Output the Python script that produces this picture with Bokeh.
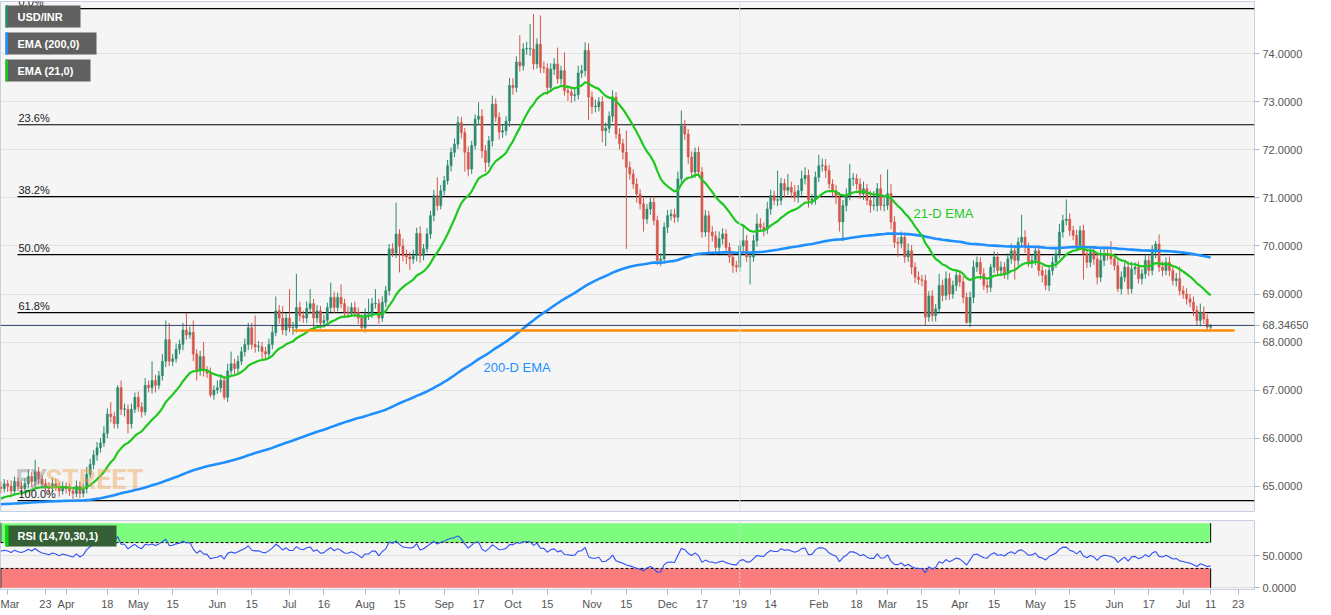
import numpy as np
import pandas as pd
from bokeh.plotting import figure
from bokeh.layouts import column
from bokeh.models import (ColumnDataSource, Range1d, FixedTicker, Span, Label,
                          BoxAnnotation, NumeralTickFormatter)
from bokeh.embed import file_html
from bokeh.resources import INLINE

# ---------------- DATA ----------------
START_DATE = "2018-03-06"
FIRST_OPEN = 64.98

close_mar_jul18 = [64.95,65.05,65.00,64.90,65.10,65.00,64.95,65.05,65.20,65.10,
                   65.30,65.15,65.05,65.00,64.95,65.05,65.00,64.90,65.00,64.95,
                   64.90,64.85,65.00,64.85,64.95,65.25,65.45,65.65,65.80,65.90,
                   66.10,66.50,66.45,66.30,67.05,66.60,66.60,66.30,66.60,66.85,
                   66.65,66.55,67.10,67.05,67.20,67.10,67.30,67.60,68.05,67.60,
                   67.65,67.85,67.95,68.25,68.15,68.20,67.75,67.40,67.70,67.40,
                   67.35,66.90,67.00,67.05,67.20,66.85,67.40,67.55,67.45,67.60,
                   67.80,67.95,68.30,67.95,67.90,67.90,67.80,67.75,67.95,68.20,
                   68.65,68.50,68.25,68.50,68.30,68.30,68.72,68.55,68.50]
close_jul_nov18 = [68.70,68.80,68.50,68.65,68.40,68.45,68.72,68.93,68.72,68.93,
                   68.80,68.62,68.60,68.72,68.62,68.50,68.30,68.58,68.58,68.80,
                   68.80,68.50,68.83,69.07,69.94,69.85,70.25,70.00,69.80,69.77,
                   69.73,69.80,70.26,69.80,69.94,70.25,70.63,71.05,70.84,71.15,
                   71.36,71.67,71.95,72.12,72.57,72.36,71.95,71.60,72.09,72.64,
                   72.70,71.98,71.74,72.19,72.95,72.68,72.37,72.40,72.60,73.34,
                   73.30,73.83,73.75,74.10,74.10,74.10,73.79,74.20,73.72,73.70,
                   73.30,73.68,73.79,73.48,73.65,73.23,73.20,73.13,73.15,73.60,
                   73.65,74.07,73.10,72.90,72.90,73.00,72.40]
close_nov18_mar19 = [72.45,72.70,73.10,72.33,72.13,71.95,71.64,71.50,71.29,71.08,
                     70.88,70.56,70.77,70.91,70.53,69.70,69.73,70.39,70.63,70.66,
                     70.60,71.40,72.50,72.33,71.85,71.54,71.95,71.54,70.29,70.63,
                     70.29,70.21,69.97,70.15,70.25,69.97,69.77,69.59,69.56,70.00,
                     70.11,69.77,69.77,70.11,70.46,70.39,70.35,70.77,71.05,70.95,
                     70.95,71.30,71.16,71.22,71.12,71.02,71.15,71.40,71.47,70.95,
                     70.98,71.43,71.67,71.67,71.57,71.29,71.15,71.02,70.50,70.84,
                     71.05,71.40,71.40,71.29,71.08,71.19,70.95,70.84,70.84,71.19,
                     70.84,70.85,71.09,70.50,70.08,70.05]
close_mar_jul19 = [70.18,69.77,69.90,69.56,69.35,69.30,69.28,68.52,68.96,68.55,
                   68.69,69.18,68.97,69.32,69.00,69.18,69.39,69.25,68.93,68.41,
                   68.93,69.56,69.66,69.42,69.18,69.14,69.56,69.77,69.49,69.56,
                   69.42,69.73,69.90,69.70,70.08,70.18,69.97,69.66,69.70,69.90,
                   69.49,69.39,69.18,69.49,69.66,69.84,70.29,70.53,70.56,70.32,
                   70.22,70.01,70.32,69.84,69.66,69.87,69.73,69.35,69.70,69.84,
                   69.80,69.73,69.59,69.11,69.35,69.56,69.11,69.52,69.56,69.32,
                   69.42,69.70,69.49,69.87,70.04,69.56,69.49,69.66,69.49,69.28,
                   69.32,69.07,69.00,68.90,68.83,68.66,68.45,68.62,68.48,68.31,
                   68.3465]

# wick lengths above / below the candle body, in paise (1/100 rupee)
wick_up_1 = [12,10,8,12,10,8,10,12,15,10, 25,10,8,10,8,12,10,8,10,8, 10,8,12,10,10,15,12,10,12,10,
             15,12,25,10,5,15,12,10,12,10, 12,10,15,10,40,12,10,15,40,35, 10,12,10,15,35,12,25,10,12,30,
             10,12,10,15,12,10,15,25,10,12, 10,12,10,10,60,12,10,10,12,15, 30,12,25,10,60,12,70,12,10]
wick_dn_1 = [10,8,12,10,8,10,12,8,10,12, 10,12,8,10,10,8,10,12,8,10, 10,12,8,10,8,10,8,10,12,10,
             8,10,12,10,10,12,15,20,10,8, 10,12,8,10,12,15,8,10,12,10, 10,8,10,12,10,8,15,20,10,12,
             10,5,10,8,10,5,10,8,12,10, 8,10,12,10,12,10,15,10,8,10, 8,12,10,12,10,15,10,12,10]
wick_up_2 = [15,30,10,12,10,12,10,31,12,10, 27,10,12,10,12,10,8,12,32,12, 30,10,12,10,10,12,65,10,15,12,
             10,12,12,15,10,12,10,12,38,12, 10,12,10,12,13,12,10,12,10,10, 29,15,12,10,18,12,10,12,10,16,
             15,12,56,12,15,52,73,12,60,12, 10,12,12,34,10,38,12,10,12,15, 12,17,15,12,15,10,12]
wick_dn_2 = [10,12,25,10,12,10,8,10,12,8, 10,12,10,8,10,12,5,10,12,8, 10,12,8,10,10,8,10,55,12,15,
             23,10,12,15,10,8,10,12,10,8, 10,8,12,10,10,12,40,15,10,8, 12,15,20,10,12,10,15,12,10,12,
             15,10,12,10,12,15,12,10,12,10, 15,10,12,10,12,10,18,15,12,10, 10,12,48,15,12,10,24]
wick_up_3 = [12,10,14,10,12,10,45,12,10,12, 10,12,10,9,12,10,12,10,12,10, 12,15,32,12,10,12,10,12,10,12,
             10,12,10,15,12,10,10,12,10,12, 34,12,10,12,21,12,10,15,12,10, 62,12,10,28,12,15,12,17,17,12,
             10,12,23,15,14,12,10,12,10,12, 15,31,12,10,12,15,10,20,30,12, 30,15,50,20,12,10]
wick_dn_3 = [32,10,12,10,12,15,170,12,10,18, 12,26,10,12,10,10,12,10,12,10, 12,10,10,12,15,10,12,10,12,10,
             44,12,15,10,12,10,12,15,11,10, 12,10,57,10,12,10,15,10,12,10, 12,10,15,10,12,10,12,10,12,15,
             10,12,10,12,15,10,12,15,20,40, 12,10,15,12,10,12,10,15,10,12, 10,12,10,15,12,28]
wick_up_4 = [12,10,15,12,10,12,10,12,10,12, 10,24,12,15,12,10,12,10,12,10, 12,14,12,10,12,10,7,12,10,12,
             10,12,15,12,10,47,15,10,12,10, 12,10,12,10,12,10,17,12,41,12, 10,12,10,12,10,12,10,12,25,12,
             10,30,12,10,12,10,12,15,10,12, 10,12,12,15,6,20,12,10,12,10, 12,25,10,12,10,12,10,18,12,10, 3]
wick_dn_4 = [10,12,10,15,12,10,12,17,10,12, 12,10,12,10,12,10,12,10,12,3, 10,12,10,12,10,12,10,12,10,12,
             10,12,10,40,12,10,12,10,12,10, 12,15,10,12,10,12,10,12,10,12, 10,12,10,54,12,10,12,15,10,12,
             10,12,10,7,12,10,12,10,12,10, 12,10,12,10,12,10,12,10,12,10, 12,10,10,12,10,12,10,12,10,6, 4]

fib_high = 74.94
fib_low = 64.70
fib_ratios = [0.0, 0.236, 0.382, 0.5, 0.618, 1.0]
fib_labels = ["0.0%", "23.6%", "38.2%", "50.0%", "61.8%", "100.0%"]
support_level = 68.24
support_from_date = "2018-07-03"
ema200_seed = 64.62
ema21_seed = 64.72
rsi_seed_gain = 0.12
rsi_seed_loss = 0.09
rsi_upper, rsi_lower = 70, 30
price_ticks = [65, 66, 67, 68, 69, 70, 71, 72, 73, 74]

tick_dates = ["2018-03-08", "2018-03-23", "2018-04-02", "2018-04-18", "2018-05-01", "2018-05-15",
              "2018-06-01", "2018-06-15", "2018-07-02", "2018-07-16", "2018-08-01", "2018-08-15",
              "2018-09-03", "2018-09-17", "2018-10-01", "2018-10-15", "2018-11-01", "2018-11-15",
              "2018-12-03", "2018-12-17", "2019-01-01", "2019-01-14", "2019-02-01", "2019-02-18",
              "2019-03-01", "2019-03-15", "2019-04-01", "2019-04-15", "2019-05-01", "2019-05-15",
              "2019-06-03", "2019-06-17", "2019-07-01", "2019-07-11", "2019-07-23"]
tick_labels = ["Mar", "23", "Apr", "18", "May", "15", "Jun", "15", "Jul", "16", "Aug", "15",
               "Sep", "17", "Oct", "15", "Nov", "15", "Dec", "17", "'19", "14", "Feb", "18",
               "Mar", "15", "Apr", "15", "May", "15", "Jun", "17", "Jul", "11", "23"]

# ---------------- derived series ----------------
close = np.array(close_mar_jul18 + close_jul_nov18 + close_nov18_mar19 + close_mar_jul19)
wu = np.array(wick_up_1 + wick_up_2 + wick_up_3 + wick_up_4) / 100.0
wd = np.array(wick_dn_1 + wick_dn_2 + wick_dn_3 + wick_dn_4) / 100.0
n = len(close)
idx = np.arange(n)
opn = np.concatenate([[FIRST_OPEN], close[:-1]])
body_top = np.maximum(opn, close)
body_bot = np.minimum(opn, close)
high = body_top + wu[:n]
low = body_bot - wd[:n]
body_top = np.maximum(body_top, body_bot + 0.012)
up = close >= opn
GREEN, RED = "#2b8a6e", "#d6574a"
colors = [GREEN if u else RED for u in up]

def ema(series, period, seed):
    a = 2.0 / (period + 1)
    out, e = [], seed
    for v in series:
        e = e + a * (v - e)
        out.append(e)
    return np.array(out)

ema21 = ema(close, 21, ema21_seed)
ema200 = ema(close, 200, ema200_seed)

rsi = []
ag, al = rsi_seed_gain, rsi_seed_loss
prev = FIRST_OPEN
for v in close:
    ch = v - prev
    ag = (ag * 13 + max(ch, 0)) / 14
    al = (al * 13 + max(-ch, 0)) / 14
    rsi.append(100 - 100 / (1 + ag / al))
    prev = v
rsi = np.array(rsi)

dates = pd.bdate_range(START_DATE, periods=420)
def didx(ds):
    return int(dates.get_loc(pd.Timestamp(ds)))
tick_pos = [didx(d) for d in tick_dates]
overrides = {float(t): lab for t, lab in zip(tick_pos, tick_labels)}

# ---------------- geometry ----------------
W = 1331
FRAME_W = 1254
X0, X1 = -0.09, 364.76
MAIN_H, MAIN_TOP, MAIN_FH = 514, 1, 510
Y_TOP, Y_BOT = 75.089, 64.473
RSI_H, RSI_TOP, RSI_FH = 101, 6, 69
R_TOP, R_BOT = 104.2, -2.6

def xd(px):
    return X0 + px * (X1 - X0) / FRAME_W
def yd(py):
    return Y_TOP - (py - MAIN_TOP) * (Y_TOP - Y_BOT) / MAIN_FH
def rd(py):
    return R_TOP - (py - MAIN_H - RSI_TOP) * (R_TOP - R_BOT) / RSI_FH

FONT = "Liberation Sans"
AXIS_COLOR = "#555555"
OUTLINE = "#c8cfe2"

x_range = Range1d(X0, X1)

# ---------------- main price panel ----------------
p = figure(width=W, height=MAIN_H, x_range=x_range, y_range=Range1d(Y_BOT, Y_TOP),
           x_axis_location=None, y_axis_location="right",
           output_backend="svg", toolbar_location=None,
           min_border_left=0, min_border_right=W - FRAME_W, min_border_top=MAIN_TOP,
           min_border_bottom=MAIN_H - MAIN_TOP - MAIN_FH,
           background_fill_color="#f5f5f5", border_fill_color="white",
           outline_line_color=OUTLINE)
p.xgrid.visible = False
p.ygrid.grid_line_color = "#e1e1e1"
p.ygrid.ticker = FixedTicker(ticks=price_ticks)
last_price = float(close[-1])
yax = p.yaxis[0]
yax.ticker = FixedTicker(ticks=price_ticks + [last_price])
yax.formatter = NumeralTickFormatter(format="0.0000")
yax.major_label_overrides = {last_price: f"{last_price:.5f}"}
yax.major_label_text_font = FONT
yax.major_label_text_font_size = "11px"
yax.major_label_text_color = AXIS_COLOR
yax.axis_line_color = None
yax.major_tick_line_color = "#b0b8cc"
yax.major_tick_in = 0
yax.major_tick_out = 5
yax.minor_tick_line_color = None
yax.major_label_standoff = 3

jan_idx = didx("2019-01-01")
p.add_layout(Span(location=jan_idx, dimension="height", line_color="#e4e4e4", line_width=1))

# fibonacci levels
fib_vals = [fib_high - r * (fib_high - fib_low) for r in fib_ratios]
p.segment(x0=[xd(17)] * len(fib_vals), x1=[X1] * len(fib_vals), y0=fib_vals, y1=fib_vals,
          line_color="black", line_width=1.2)
for v, lab in zip(fib_vals, fib_labels):
    p.add_layout(Label(x=xd(18), y=v, text=lab, text_font=FONT, text_font_size="11px",
                       text_color="#222222", text_baseline="bottom", y_offset=1))

# watermark
p.add_layout(Label(x=xd(15), y=yd(479), text="FX", text_font="Roboto", text_font_style="bold",
                   text_font_size="27px", text_color="#8a8a8a", text_alpha=0.45, text_baseline="middle"))
p.add_layout(Label(x=xd(45), y=yd(479), text="STREET", text_font="Roboto", text_font_style="bold",
                   text_font_size="27px", text_color="#f0a24e", text_alpha=0.45, text_baseline="middle"))

# candles
src = ColumnDataSource(dict(x=idx, h=high, l=low, t=body_top, b=body_bot, c=colors))
p.segment(x0="x", x1="x", y0="l", y1="h", line_color="c", line_width=1, source=src)
p.vbar(x="x", width=0.62, top="t", bottom="b", fill_color="c", line_color="c", line_width=0.5, source=src)

# EMAs
p.line(idx, ema200, line_color="#1e8fff", line_width=2.6, line_join="round")
p.line(idx, ema21, line_color="#1fc81f", line_width=2.2, line_join="round")

# support & last price
sup_i = didx(support_from_date)
p.segment(x0=[sup_i], x1=[xd(1234)], y0=[support_level], y1=[support_level],
          line_color="#ff8c00", line_width=2.6)
p.add_layout(Span(location=last_price, dimension="width", line_color="#2f4565", line_width=1))

# annotations
p.add_layout(Label(x=xd(913), y=yd(213), text="21-D EMA", text_font=FONT, text_font_size="13px",
                   text_color="#1fc81f", text_baseline="middle"))
p.add_layout(Label(x=xd(483), y=yd(367), text="200-D EMA", text_font=FONT, text_font_size="13px",
                   text_color="#1e8fff", text_baseline="middle"))

# legend boxes
legend_items = [("USD/INR", "#2b8a6e", 5, 80, 5, 27),
                ("EMA (200,0)", "#1e8fff", 5, 96, 32, 54),
                ("EMA (21,0)", "#14c814", 5, 90, 59, 81)]
for txt, col, l, rr, t, b in legend_items:
    p.add_layout(BoxAnnotation(left=xd(l), right=xd(rr), top=yd(t), bottom=yd(b),
                               fill_color="#606060", fill_alpha=1, line_color=None))
    p.add_layout(BoxAnnotation(left=xd(l), right=xd(l + 2.5), top=yd(t), bottom=yd(b),
                               fill_color=col, fill_alpha=1, line_color=None))
    p.add_layout(Label(x=xd(17), y=yd((t + b) / 2), text=txt, text_font=FONT, text_font_style="bold",
                       text_font_size="11px", text_color="white", text_baseline="middle"))

# ---------------- RSI panel ----------------
r = figure(width=W, height=RSI_H, x_range=x_range, y_range=Range1d(R_BOT, R_TOP),
           y_axis_location="right", output_backend="svg", toolbar_location=None,
           min_border_left=0, min_border_right=W - FRAME_W, min_border_top=RSI_TOP,
           min_border_bottom=RSI_H - RSI_TOP - RSI_FH,
           background_fill_color="#f5f5f5", border_fill_color="white",
           outline_line_color=OUTLINE)
r.xgrid.visible = False
r.ygrid.grid_line_color = "#dedede"
ry = r.yaxis[0]
ry.ticker = FixedTicker(ticks=[0, 50])
ry.formatter = NumeralTickFormatter(format="0.0000")
for ax in (ry, r.xaxis[0]):
    ax.major_label_text_font = FONT
    ax.major_label_text_font_size = "11px"
    ax.major_label_text_color = AXIS_COLOR
    ax.axis_line_color = None
    ax.major_tick_line_color = "#b0b8cc"
    ax.major_tick_in = 0
    ax.major_tick_out = 5
    ax.minor_tick_line_color = None
    ax.major_label_standoff = 3
rx = r.xaxis[0]
rx.ticker = FixedTicker(ticks=[float(t) for t in tick_pos])
rx.major_label_overrides = overrides

r.add_layout(Span(location=jan_idx, dimension="height", line_color="#dcdcdc", line_width=1,
                  line_dash="2 2"))
last = n - 1
r.quad(left=[X0, X0], right=[last, last], bottom=[rsi_upper, 0], top=[100, rsi_lower],
       fill_color=["#7dfc7d", "#fb7c7c"], line_color=None)
r.segment(x0=[X0, X0], x1=[last, last], y0=[rsi_upper, rsi_lower], y1=[rsi_upper, rsi_lower],
          line_color="black", line_width=1, line_dash="3 2")
r.segment(x0=[last, last, 0.0, 0.0], x1=[last, last, 0.0, 0.0], y0=[rsi_upper, 0, rsi_upper, 0],
          y1=[100, rsi_lower, 100, rsi_lower], line_color="black", line_width=1)
r.line(idx, rsi, line_color="#2f50f5", line_width=1.1)

r.add_layout(BoxAnnotation(left=xd(5), right=xd(116), top=rd(525), bottom=rd(546),
                           fill_color="#355f35", fill_alpha=1, line_color=None))
r.add_layout(BoxAnnotation(left=xd(5), right=xd(8), top=rd(525), bottom=rd(546),
                           fill_color="#00e000", fill_alpha=1, line_color=None))
r.add_layout(Label(x=xd(17), y=rd(535.5), text="RSI (14,70,30,1)", text_font=FONT,
                   text_font_style="bold", text_font_size="11px", text_color="white",
                   text_baseline="middle"))

layout = column(p, r, spacing=0)
open("out.html", "w").write(file_html(layout, INLINE))
